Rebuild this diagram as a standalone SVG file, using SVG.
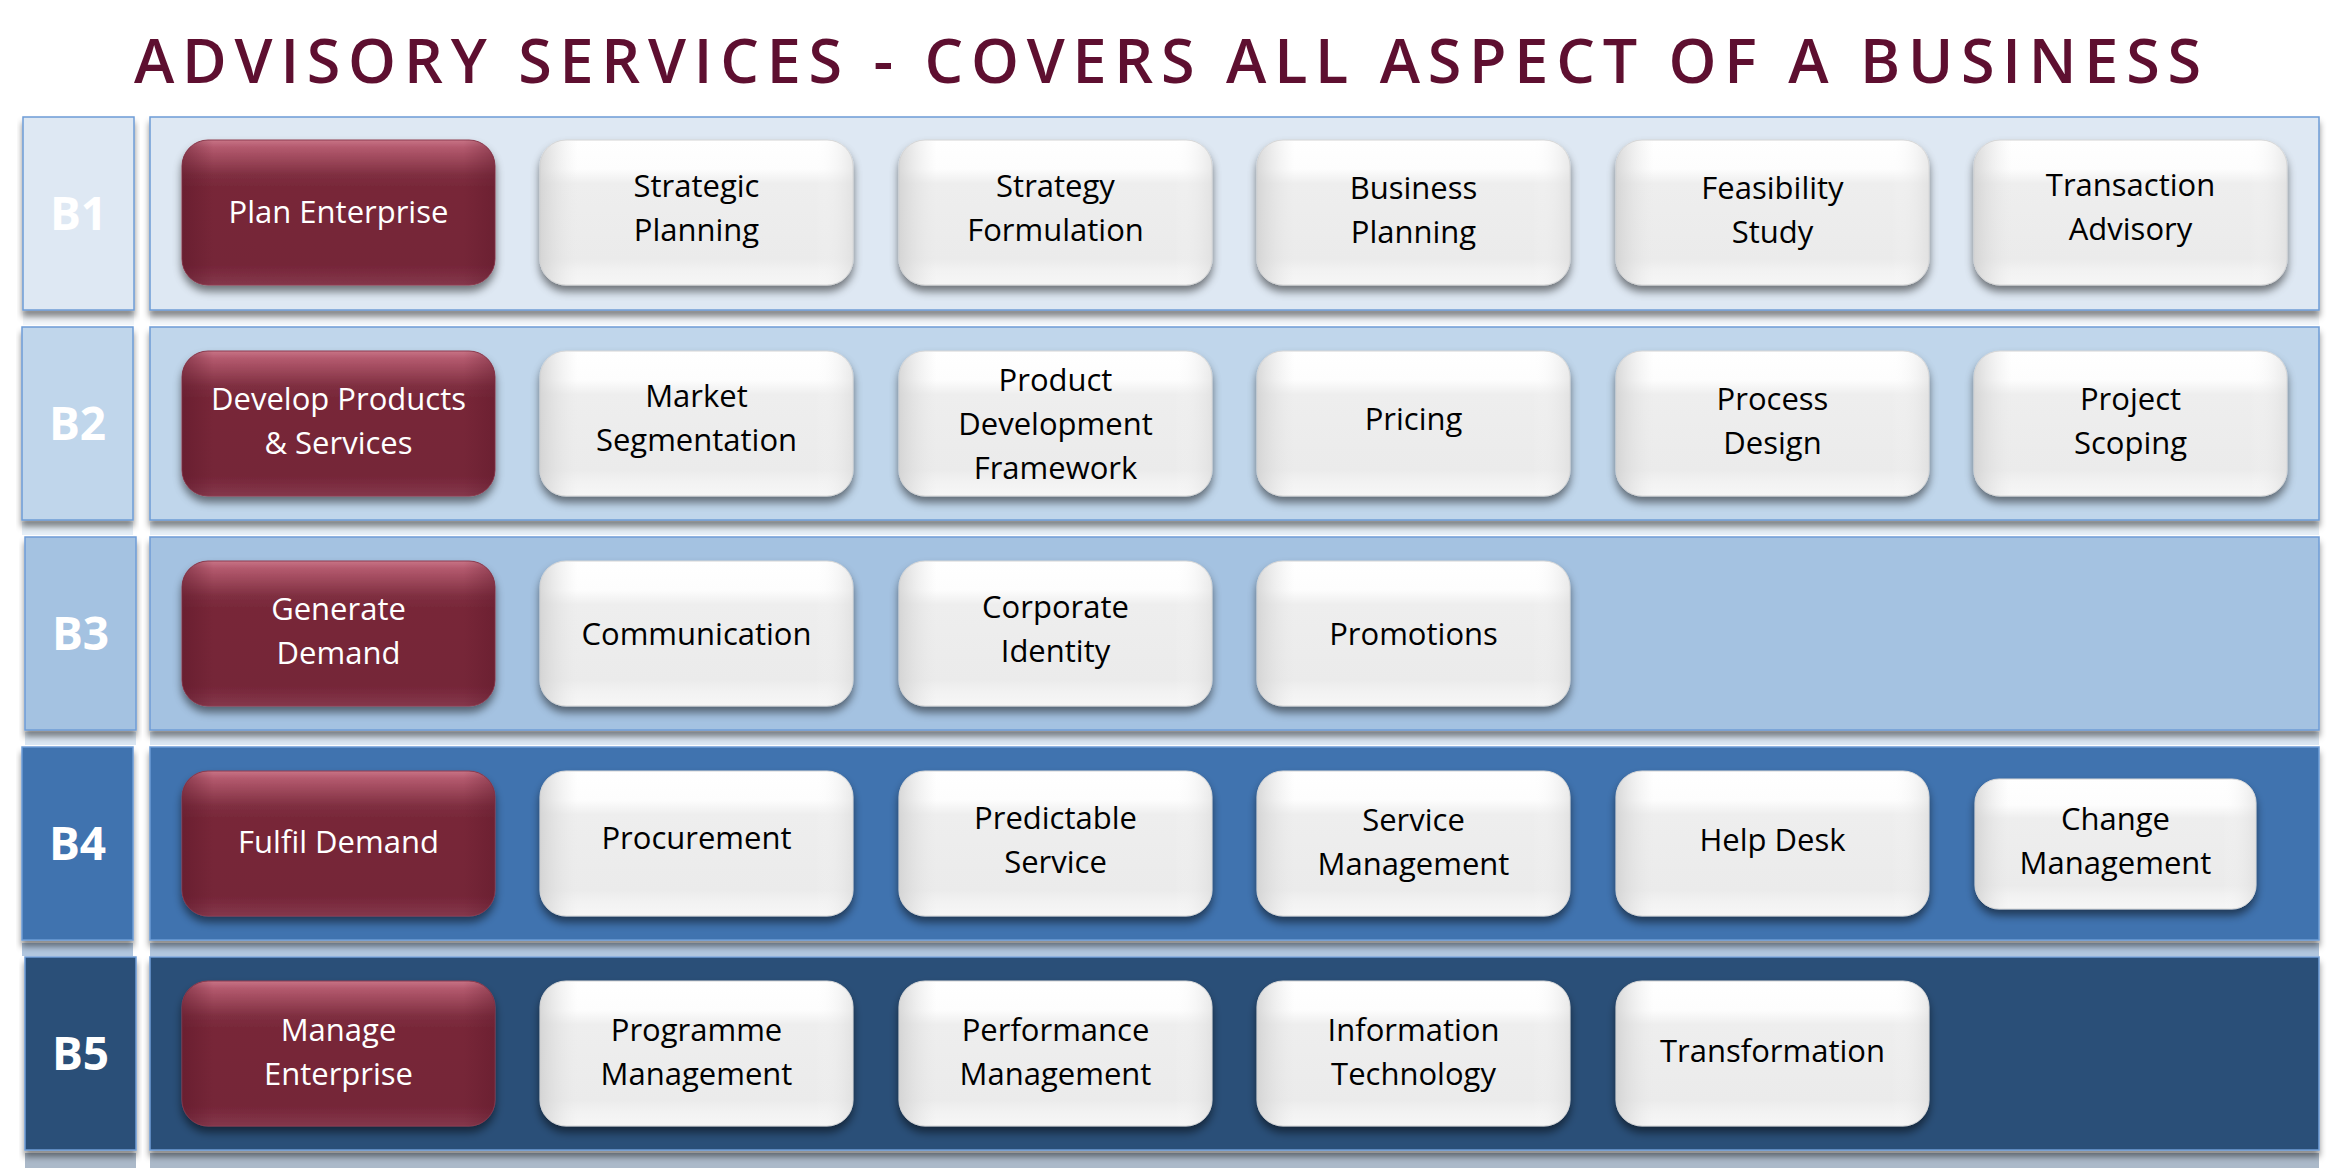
<svg xmlns="http://www.w3.org/2000/svg" width="2336" height="1168" viewBox="0 0 2336 1168">
<defs>
  <linearGradient id="wBase" x1="0" y1="0" x2="0" y2="1">
    <stop offset="0" stop-color="#ffffff"/>
    <stop offset="0.2" stop-color="#fdfdfd"/>
    <stop offset="0.3" stop-color="#eeeeee"/>
    <stop offset="0.82" stop-color="#ebebeb"/>
    <stop offset="0.9" stop-color="#f2f2f2"/>
    <stop offset="1" stop-color="#f6f6f6"/>
  </linearGradient>
  <linearGradient id="wSide" x1="0" y1="0" x2="1" y2="0">
    <stop offset="0" stop-color="#cfcfcf" stop-opacity="0.8"/>
    <stop offset="0.12" stop-color="#e6e6e6" stop-opacity="0"/>
    <stop offset="0.88" stop-color="#ffffff" stop-opacity="0"/>
    <stop offset="1" stop-color="#dadada" stop-opacity="0.6"/>
  </linearGradient>
  <linearGradient id="mBase" x1="0" y1="0" x2="0" y2="1">
    <stop offset="0" stop-color="#c87486"/>
    <stop offset="0.05" stop-color="#b45a6e"/>
    <stop offset="0.24" stop-color="#7f2f41"/>
    <stop offset="0.32" stop-color="#782839"/>
    <stop offset="0.86" stop-color="#752538"/>
    <stop offset="1" stop-color="#84374b"/>
  </linearGradient>
  <linearGradient id="mSide" x1="0" y1="0" x2="1" y2="0">
    <stop offset="0" stop-color="#5a1627" stop-opacity="0.45"/>
    <stop offset="0.1" stop-color="#5a1627" stop-opacity="0"/>
    <stop offset="0.9" stop-color="#5a1627" stop-opacity="0"/>
    <stop offset="1" stop-color="#5a1627" stop-opacity="0.35"/>
  </linearGradient>
  <filter id="nsh" x="-10%" y="-10%" width="120%" height="130%">
    <feGaussianBlur in="SourceAlpha" stdDeviation="4"/>
    <feOffset dx="0" dy="6" result="o"/>
    <feFlood flood-color="#000" flood-opacity="0.5"/>
    <feComposite in2="o" operator="in"/>
    <feMerge><feMergeNode/><feMergeNode in="SourceGraphic"/></feMerge>
  </filter>
  <filter id="bsh" x="-5%" y="-10%" width="110%" height="130%">
    <feGaussianBlur in="SourceAlpha" stdDeviation="3"/>
    <feOffset dx="0" dy="6" result="o"/>
    <feFlood flood-color="#000" flood-opacity="0.45"/>
    <feComposite in2="o" operator="in"/>
    <feMerge><feMergeNode/><feMergeNode in="SourceGraphic"/></feMerge>
  </filter>
</defs>
<style>
  .title{font-family:'Open Sans','Lato',sans-serif;font-size:61px;font-weight:600;fill:#5e0f30;}
  .band{stroke:#6e9cd6;stroke-width:1.5;filter:url(#bsh);}
  .lbl{font-family:'Open Sans','Lato',sans-serif;font-weight:bold;font-size:46px;fill:#ffffff;text-anchor:middle;}
  .mb{fill:url(#mBase);stroke:#8e3c50;stroke-width:1;filter:url(#nsh);}
  .mo{fill:url(#mSide);}
  .wb{fill:url(#wBase);stroke:#d4d4d4;stroke-width:1;filter:url(#nsh);}
  .wo{fill:url(#wSide);}
  .t{font-family:'Open Sans','Lato',sans-serif;font-size:31px;text-anchor:middle;}
  .tw{fill:#ffffff;}
  .tk{fill:#000000;}
</style>
<rect width="2336" height="1168" fill="#ffffff"/>
<text class="title" x="134" y="83" textLength="2067" lengthAdjust="spacing">ADVISORY SERVICES - COVERS ALL ASPECT OF A BUSINESS</text>

<g id="bands">
  <rect x="23" y="312" width="111" height="13" fill="#dee8f3" opacity="0.4"/>
  <rect x="150" y="312" width="2169" height="13" fill="#dee8f3" opacity="0.4"/>
  <rect x="22" y="522" width="111" height="13" fill="#c0d6eb" opacity="0.4"/>
  <rect x="150" y="522" width="2169" height="13" fill="#c0d6eb" opacity="0.4"/>
  <rect x="25" y="732" width="111" height="13" fill="#a4c2e1" opacity="0.4"/>
  <rect x="150" y="732" width="2169" height="13" fill="#a4c2e1" opacity="0.4"/>
  <rect x="22" y="943" width="111" height="13" fill="#3f73af" opacity="0.4"/>
  <rect x="150" y="943" width="2169" height="13" fill="#3f73af" opacity="0.4"/>
  <rect x="25" y="1153" width="111" height="15" fill="#2c5078" opacity="0.4"/>
  <rect x="150" y="1153" width="2169" height="15" fill="#2c5078" opacity="0.4"/>

  <g id="band-b1">
    <rect class="band" x="23" y="117" width="111" height="193" fill="#dee8f3"/>
    <rect class="band" x="150" y="117" width="2169" height="193" fill="#dee8f3"/>
    <text class="lbl" x="78.5" y="230">B1</text>
  </g>
  <g id="band-b2">
    <rect class="band" x="22" y="327" width="111" height="193" fill="#c0d6eb"/>
    <rect class="band" x="150" y="327" width="2169" height="193" fill="#c0d6eb"/>
    <text class="lbl" x="77.5" y="440">B2</text>
  </g>
  <g id="band-b3">
    <rect class="band" x="25" y="537" width="111" height="193" fill="#a4c2e1"/>
    <rect class="band" x="150" y="537" width="2169" height="193" fill="#a4c2e1"/>
    <text class="lbl" x="80.5" y="650">B3</text>
  </g>
  <g id="band-b4">
    <rect class="band" x="22" y="747" width="111" height="193" fill="#3f73af"/>
    <rect class="band" x="150" y="747" width="2169" height="193" fill="#3f73af"/>
    <text class="lbl" x="77.5" y="860">B4</text>
  </g>
  <g id="band-b5">
    <rect class="band" x="25" y="957" width="111" height="193" fill="#2c5078"/>
    <rect class="band" x="150" y="957" width="2169" height="193" fill="#2c5078"/>
    <text class="lbl" x="80.5" y="1070">B5</text>
  </g>
</g>

<g id="connectors"></g>

<!-- Row B1 -->
<g id="plan-enterprise"><rect class="mb" x="182" y="140" width="313" height="145" rx="26"/><rect class="mo" x="182" y="140" width="313" height="145" rx="26"/>
  <text class="t tw" x="338.5" y="223">Plan Enterprise</text></g>
<g id="strategic-planning"><rect class="wb" x="540" y="140" width="313" height="145" rx="26"/><rect class="wo" x="540" y="140" width="313" height="145" rx="26"/>
  <text class="t tk" x="696.5" y="197">Strategic</text><text class="t tk" x="696.5" y="241">Planning</text></g>
<g id="strategy-formulation"><rect class="wb" x="899" y="140" width="313" height="145" rx="26"/><rect class="wo" x="899" y="140" width="313" height="145" rx="26"/>
  <text class="t tk" x="1055.5" y="197">Strategy</text><text class="t tk" x="1055.5" y="241">Formulation</text></g>
<g id="business-planning"><rect class="wb" x="1257" y="140" width="313" height="145" rx="26"/><rect class="wo" x="1257" y="140" width="313" height="145" rx="26"/>
  <text class="t tk" x="1413.5" y="199">Business</text><text class="t tk" x="1413.5" y="243">Planning</text></g>
<g id="feasibility-study"><rect class="wb" x="1616" y="140" width="313" height="145" rx="26"/><rect class="wo" x="1616" y="140" width="313" height="145" rx="26"/>
  <text class="t tk" x="1772.5" y="199">Feasibility</text><text class="t tk" x="1772.5" y="243">Study</text></g>
<g id="transaction-advisory"><rect class="wb" x="1974" y="140" width="313" height="145" rx="26"/><rect class="wo" x="1974" y="140" width="313" height="145" rx="26"/>
  <text class="t tk" x="2130.5" y="196">Transaction</text><text class="t tk" x="2130.5" y="240">Advisory</text></g>

<!-- Row B2 -->
<g id="develop-products"><rect class="mb" x="182" y="351" width="313" height="145" rx="26"/><rect class="mo" x="182" y="351" width="313" height="145" rx="26"/>
  <text class="t tw" x="338.5" y="410">Develop Products</text><text class="t tw" x="338.5" y="454">&amp; Services</text></g>
<g id="market-segmentation"><rect class="wb" x="540" y="351" width="313" height="145" rx="26"/><rect class="wo" x="540" y="351" width="313" height="145" rx="26"/>
  <text class="t tk" x="696.5" y="407">Market</text><text class="t tk" x="696.5" y="451">Segmentation</text></g>
<g id="product-development-framework"><rect class="wb" x="899" y="351" width="313" height="145" rx="26"/><rect class="wo" x="899" y="351" width="313" height="145" rx="26"/>
  <text class="t tk" x="1055.5" y="391">Product</text><text class="t tk" x="1055.5" y="435">Development</text><text class="t tk" x="1055.5" y="479">Framework</text></g>
<g id="pricing"><rect class="wb" x="1257" y="351" width="313" height="145" rx="26"/><rect class="wo" x="1257" y="351" width="313" height="145" rx="26"/>
  <text class="t tk" x="1413.5" y="430">Pricing</text></g>
<g id="process-design"><rect class="wb" x="1616" y="351" width="313" height="145" rx="26"/><rect class="wo" x="1616" y="351" width="313" height="145" rx="26"/>
  <text class="t tk" x="1772.5" y="410">Process</text><text class="t tk" x="1772.5" y="454">Design</text></g>
<g id="project-scoping"><rect class="wb" x="1974" y="351" width="313" height="145" rx="26"/><rect class="wo" x="1974" y="351" width="313" height="145" rx="26"/>
  <text class="t tk" x="2130.5" y="410">Project</text><text class="t tk" x="2130.5" y="454">Scoping</text></g>

<!-- Row B3 -->
<g id="generate-demand"><rect class="mb" x="182" y="561" width="313" height="145" rx="26"/><rect class="mo" x="182" y="561" width="313" height="145" rx="26"/>
  <text class="t tw" x="338.5" y="620">Generate</text><text class="t tw" x="338.5" y="664">Demand</text></g>
<g id="communication"><rect class="wb" x="540" y="561" width="313" height="145" rx="26"/><rect class="wo" x="540" y="561" width="313" height="145" rx="26"/>
  <text class="t tk" x="696.5" y="645">Communication</text></g>
<g id="corporate-identity"><rect class="wb" x="899" y="561" width="313" height="145" rx="26"/><rect class="wo" x="899" y="561" width="313" height="145" rx="26"/>
  <text class="t tk" x="1055.5" y="618">Corporate</text><text class="t tk" x="1055.5" y="662">Identity</text></g>
<g id="promotions"><rect class="wb" x="1257" y="561" width="313" height="145" rx="26"/><rect class="wo" x="1257" y="561" width="313" height="145" rx="26"/>
  <text class="t tk" x="1413.5" y="645">Promotions</text></g>

<!-- Row B4 -->
<g id="fulfil-demand"><rect class="mb" x="182" y="771" width="313" height="145" rx="26"/><rect class="mo" x="182" y="771" width="313" height="145" rx="26"/>
  <text class="t tw" x="338.5" y="853">Fulfil Demand</text></g>
<g id="procurement"><rect class="wb" x="540" y="771" width="313" height="145" rx="26"/><rect class="wo" x="540" y="771" width="313" height="145" rx="26"/>
  <text class="t tk" x="696.5" y="849">Procurement</text></g>
<g id="predictable-service"><rect class="wb" x="899" y="771" width="313" height="145" rx="26"/><rect class="wo" x="899" y="771" width="313" height="145" rx="26"/>
  <text class="t tk" x="1055.5" y="829">Predictable</text><text class="t tk" x="1055.5" y="873">Service</text></g>
<g id="service-management"><rect class="wb" x="1257" y="771" width="313" height="145" rx="26"/><rect class="wo" x="1257" y="771" width="313" height="145" rx="26"/>
  <text class="t tk" x="1413.5" y="831">Service</text><text class="t tk" x="1413.5" y="875">Management</text></g>
<g id="help-desk"><rect class="wb" x="1616" y="771" width="313" height="145" rx="26"/><rect class="wo" x="1616" y="771" width="313" height="145" rx="26"/>
  <text class="t tk" x="1772.5" y="851">Help Desk</text></g>
<g id="change-management"><rect class="wb" x="1975" y="779" width="281" height="130" rx="24"/><rect class="wo" x="1975" y="779" width="281" height="130" rx="24"/>
  <text class="t tk" x="2115.5" y="830">Change</text><text class="t tk" x="2115.5" y="874">Management</text></g>

<!-- Row B5 -->
<g id="manage-enterprise"><rect class="mb" x="182" y="981" width="313" height="145" rx="26"/><rect class="mo" x="182" y="981" width="313" height="145" rx="26"/>
  <text class="t tw" x="338.5" y="1041">Manage</text><text class="t tw" x="338.5" y="1085">Enterprise</text></g>
<g id="programme-management"><rect class="wb" x="540" y="981" width="313" height="145" rx="26"/><rect class="wo" x="540" y="981" width="313" height="145" rx="26"/>
  <text class="t tk" x="696.5" y="1041">Programme</text><text class="t tk" x="696.5" y="1085">Management</text></g>
<g id="performance-management"><rect class="wb" x="899" y="981" width="313" height="145" rx="26"/><rect class="wo" x="899" y="981" width="313" height="145" rx="26"/>
  <text class="t tk" x="1055.5" y="1041">Performance</text><text class="t tk" x="1055.5" y="1085">Management</text></g>
<g id="information-technology"><rect class="wb" x="1257" y="981" width="313" height="145" rx="26"/><rect class="wo" x="1257" y="981" width="313" height="145" rx="26"/>
  <text class="t tk" x="1413.5" y="1041">Information</text><text class="t tk" x="1413.5" y="1085">Technology</text></g>
<g id="transformation"><rect class="wb" x="1616" y="981" width="313" height="145" rx="26"/><rect class="wo" x="1616" y="981" width="313" height="145" rx="26"/>
  <text class="t tk" x="1772.5" y="1062">Transformation</text></g>
</svg>
